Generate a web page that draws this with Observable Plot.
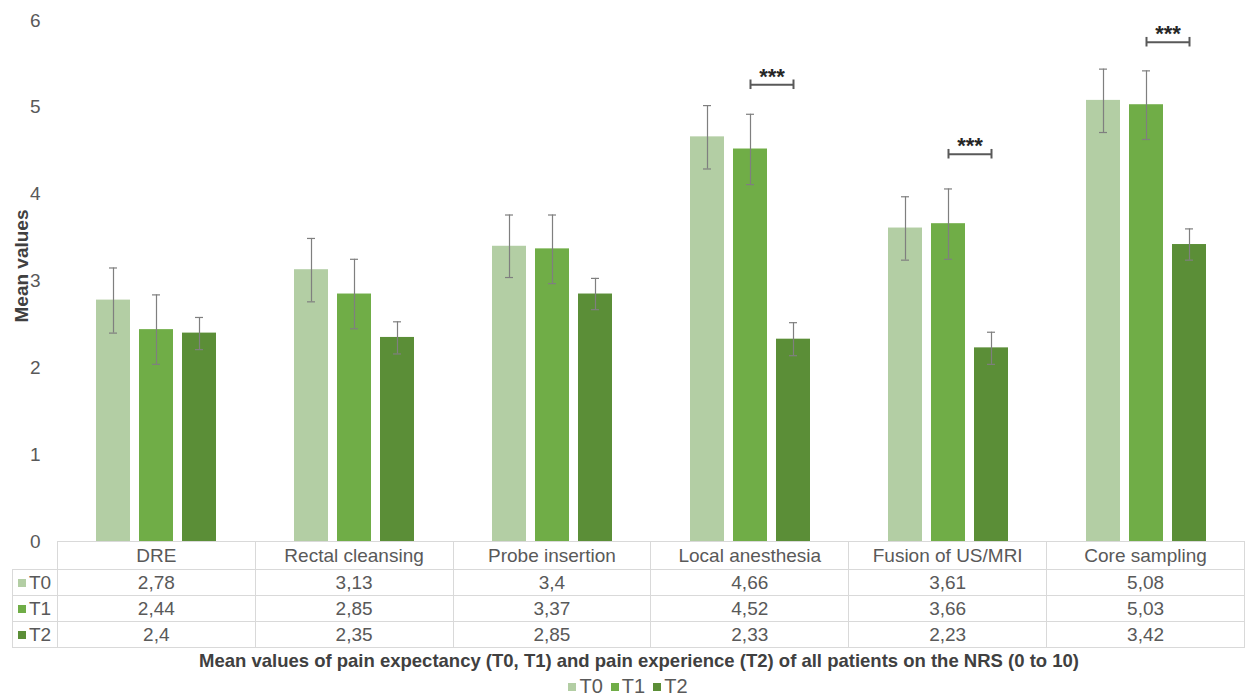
<!DOCTYPE html>
<html><head><meta charset="utf-8">
<script src="https://cdn.jsdelivr.net/npm/d3@7"></script>
<script src="https://cdn.jsdelivr.net/npm/@observablehq/plot@0.6"></script>
<style>
body{margin:0;background:#fff;font-family:"Liberation Sans",Arial,sans-serif;color:#595959;}
#wrap{position:relative;width:1245px;height:697px;overflow:hidden;}
#chart{position:absolute;left:0;top:0;}
#ylabel{position:absolute;left:22px;top:266px;transform:translate(-50%,-50%) rotate(-90deg);font-weight:bold;font-size:19px;color:#404040;white-space:nowrap;}
#tbl{position:absolute;left:12px;top:541px;border-collapse:collapse;font-size:19px;color:#595959;table-layout:fixed;}
#tbl td{border:1px solid #d9d9d9;text-align:center;padding:0;height:25px;line-height:25px;white-space:nowrap;}
#tbl tr.head td{height:27px;line-height:27px;}
#tbl td.blank{border:none;}
#tbl td.lab{text-align:left;padding-left:5px;}
.sq{display:inline-block;width:8px;height:8px;margin-right:3px;vertical-align:2px;}
#title{position:absolute;left:0;width:1278px;top:650px;text-align:center;font-weight:bold;font-size:18.5px;color:#404040;white-space:nowrap;}
#legend{position:absolute;left:0;width:1256px;top:675px;text-align:center;font-size:20px;color:#595959;}
#legend span.item{margin:0 4px;}
</style></head><body><div id="wrap"><div id="chart"></div><div id="ylabel">Mean values</div><table id="tbl"></table><div id="title"></div><div id="legend"></div></div>
<script>
const categories = ["DRE","Rectal cleansing","Probe insertion","Local anesthesia","Fusion of US/MRI","Core sampling"];
const series = ["T0","T1","T2"];
const colors = ["#b3cea4","#70ad47","#5b8e37"];
const valuesT0 = [2.78,3.13,3.4,4.66,3.61,5.08];
const valuesT1 = [2.44,2.85,3.37,4.52,3.66,5.03];
const valuesT2 = [2.4,2.35,2.85,2.33,2.23,3.42];
const lowT0 = [2.40,2.76,3.04,4.29,3.24,4.71];
const highT0 = [3.15,3.49,3.76,5.02,3.97,5.44];
const lowT1 = [2.04,2.45,2.97,4.11,3.25,4.63];
const highT1 = [2.84,3.25,3.76,4.92,4.06,5.42];
const lowT2 = [2.21,2.16,2.67,2.14,2.04,3.24];
const highT2 = [2.58,2.53,3.03,2.52,2.41,3.60];
const sigCategories = ["Local anesthesia","Fusion of US/MRI","Core sampling"];
const sigLevels = [5.26,4.46,5.75];
const sigLabel = "***";
const yTicks = [0,1,2,3,4,5,6];
const titleText = "Mean values of pain expectancy (T0, T1) and pain experience (T2) of all patients on the NRS (0 to 10)";

const vals = [valuesT0, valuesT1, valuesT2];
const lows = [lowT0, lowT1, lowT2];
const highs = [highT0, highT1, highT2];
const data = categories.flatMap((c,i)=>series.map((s,j)=>({category:c, series:s, value:vals[j][i], lo:lows[j][i], hi:highs[j][i]})));
const sig = sigCategories.map((c,i)=>({category:c, from:"T1", to:"T2", y:sigLevels[i], label:sigLabel}));
const sigCaps = sig.flatMap(d=>[d.from,d.to].map(x=>({category:d.category, x, y1:d.y-0.055, y2:d.y+0.055})));

const chart = Plot.plot({
  width:1245, height:560, marginTop:20, marginBottom:19, marginLeft:57, marginRight:0,
  style:{fontFamily:"'Liberation Sans', Arial, sans-serif", fontSize:"19px", color:"#595959", background:"transparent"},
  fx:{domain:categories, padding:0, axis:null},
  x:{domain:series, paddingInner:0.21, paddingOuter:0.9, axis:null},
  y:{domain:[0,6], axis:null},
  color:{domain:series, range:colors},
  marks:[
    Plot.axisY({ticks:yTicks, tickFormat:d=>String(d), tickSize:0, tickPadding:17, label:null, fontSize:19}),
    Plot.barY(data,{fx:"category", x:"series", y:"value", fill:"series"}),
    Plot.ruleX(data,{fx:"category", x:"series", y1:"lo", y2:"hi", stroke:"#7f7f7f", strokeWidth:1.2}),
    Plot.tickY(data,{fx:"category", x:"series", y:"lo", insetLeft:13, insetRight:13, stroke:"#7f7f7f", strokeWidth:1.2}),
    Plot.tickY(data,{fx:"category", x:"series", y:"hi", insetLeft:13, insetRight:13, stroke:"#7f7f7f", strokeWidth:1.2}),
    Plot.ruleY(sig,{fx:"category", x1:"from", x2:"to", y:"y", insetLeft:17, insetRight:17, stroke:"#595959", strokeWidth:2}),
    Plot.ruleX(sigCaps,{fx:"category", x:"x", y1:"y1", y2:"y2", stroke:"#595959", strokeWidth:2}),
    Plot.text(sig,{fx:"category", x:"from", y:"y", text:"label", dx:21.5, dy:-8, fontWeight:"bold", fontSize:22, fill:"#262626"})
  ]
});
document.getElementById("chart").appendChild(chart);

const fmt = v => String(v).replace(".", ",");
const tbl = document.getElementById("tbl");
let html = '<colgroup><col style="width:45px">' + categories.map(()=>'<col style="width:198px">').join("") + '</colgroup>';
html += '<tr class="head"><td class="blank"></td>' + categories.map(c=>`<td>${c}</td>`).join("") + '</tr>';
series.forEach((s,j)=>{
  html += `<tr><td class="lab"><span class="sq" style="background:${colors[j]}"></span>${s}</td>` + vals[j].map(v=>`<td>${fmt(v)}</td>`).join("") + '</tr>';
});
tbl.innerHTML = html;
document.getElementById("title").textContent = titleText;
document.getElementById("legend").innerHTML = series.map((s,j)=>`<span class="item"><span class="sq" style="background:${colors[j]}"></span>${s}</span>`).join("");
</script>
</body></html>
